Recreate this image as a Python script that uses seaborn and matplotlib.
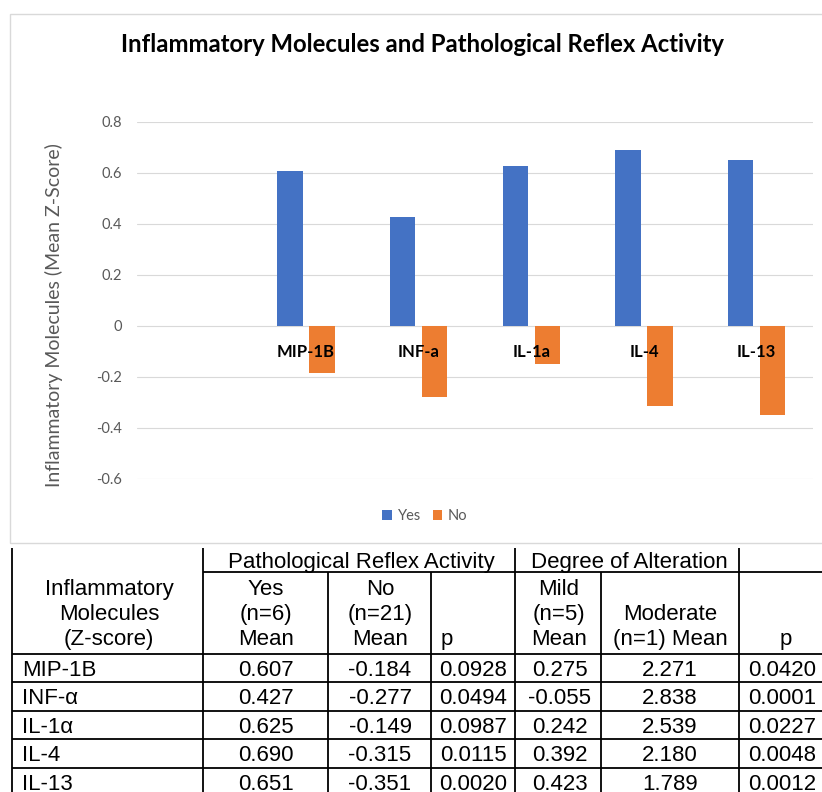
import matplotlib
matplotlib.use("Agg")
import matplotlib.pyplot as plt
import seaborn as sns
import pandas as pd
from matplotlib.patches import Rectangle

# ---------------- data ----------------
molecules = ["MIP-1B", "INF-a", "IL-1a", "IL-4", "IL-13"]
table_molecules = ["MIP-1B", "INF-\u03b1", "IL-1\u03b1", "IL-4", "IL-13"]
groups = ["Yes", "No"]
yes_mean = [0.607, 0.427, 0.625, 0.690, 0.651]
no_mean = [-0.184, -0.277, -0.149, -0.315, -0.351]
p_reflex = ["0.0928", "0.0494", "0.0987", "0.0115", "0.0020"]
mild_mean = ["0.275", "-0.055", "0.242", "0.392", "0.423"]
moderate_mean = ["2.271", "2.838", "2.539", "2.180", "1.789"]
p_alteration = ["0.0420", "0.0001", "0.0227", "0.0048", "0.0012"]
y_ticks = [-0.6, -0.4, -0.2, 0, 0.2, 0.4, 0.6, 0.8]
y_tick_labels = ["-0.6", "-0.4", "-0.2", "0", "0.2", "0.4", "0.6", "0.8"]
chart_title = "Inflammatory Molecules and Pathological Reflex Activity"
y_title = "Inflammatory Molecules (Mean Z-Score)"

df = pd.DataFrame({
    "Molecule": molecules * 2,
    "Group": ["Yes"] * len(molecules) + ["No"] * len(molecules),
    "Value": yes_mean + no_mean,
})

sns.set_theme(style="white")
plt.rcParams["font.family"] = ["Lato", "DejaVu Sans"]

W, H = 822, 792
fig = plt.figure(figsize=(W / 100, H / 100), dpi=100)


def fx(x):
    return x / W


def fy(y):
    return 1 - y / H


# chart frame
frame = Rectangle((fx(10), fy(543)), fx(840) - fx(10), fy(14) - fy(543),
                  transform=fig.transFigure, fill=False, edgecolor="#D9D9D9",
                  lw=1.0, clip_on=False)
fig.patches.append(frame)

ax = fig.add_axes([fx(137), fy(479), fx(813) - fx(137), fy(121.7) - fy(479)])
sns.barplot(data=df, x="Molecule", y="Value", hue="Group", hue_order=groups,
            order=molecules, palette={"Yes": "#4472C4", "No": "#ED7D31"},
            width=0.568, gap=0.213, saturation=1, linewidth=0, ax=ax,
            legend=True)
for s in ax.spines.values():
    s.set_visible(False)
ax.spines["bottom"].set_position(("data", 0))
ax.set_xlim(-1.5, 4.5)
ax.set_ylim(-0.6, 0.8)
ax.set_yticks(y_ticks, y_tick_labels)
ax.set_xticks(range(len(molecules)), molecules)
ax.yaxis.grid(True, color="#D9D9D9", lw=0.8)
ax.xaxis.grid(False)
ax.tick_params(axis="y", length=0, pad=11, labelsize=10.5, labelcolor="#595959")
ax.tick_params(axis="x", length=0, pad=13, labelsize=12, labelcolor="black")
for lbl in ax.get_xticklabels():
    lbl.set_fontweight("bold")
ax.yaxis.set_zorder(0.5)
ax.xaxis.set_zorder(3)
ax.set_xlabel("")
ax.set_ylabel(y_title, fontsize=14, color="#595959")
ax.yaxis.set_label_coords((54 - 137) / 676, (479 - 315) / 357.3)
ax.yaxis.label.set_va("center")

handles, labels = ax.get_legend_handles_labels()
ax.legend(handles, labels, loc="center", bbox_to_anchor=(fx(425), fy(516)),
          bbox_transform=fig.transFigure, ncol=2, frameon=False,
          handlelength=0.65, handleheight=0.65, handletextpad=0.4,
          columnspacing=0.8, fontsize=10.5, labelcolor="#595959")

fig.suptitle(chart_title, x=fx(422), y=fy(44), va="center", ha="center",
             fontsize=17.2, fontweight="bold", color="black")

# ---------------- table ----------------
tax = fig.add_axes([0, 0, 1, 1])
tax.set_xlim(0, W)
tax.set_ylim(H, 0)
tax.axis("off")

LW = 1.3
line_kw = dict(color="black", lw=LW, solid_capstyle="butt")
top, sub, hdr_bot, bot, right = 548, 572, 654, 800, 830
for x in [12, 203, 515, 739]:
    tax.plot([x, x], [top, bot], **line_kw)
for x in [328, 431, 601]:
    tax.plot([x, x], [sub, bot], **line_kw)
tax.plot([203, right], [sub, sub], **line_kw)
row_lines = [hdr_bot, 682.3, 710.7, 739.3, 768, 796.6]
for y in row_lines:
    tax.plot([12, right], [y, y], **line_kw)

tf = dict(family=["Liberation Sans", "DejaVu Sans"], fontsize=16, color="black")
b1, b2, b3 = 595, 620, 645
tax.text(361, 568.4, "Pathological Reflex Activity", ha="center", va="baseline", **tf)
tax.text(629, 568.4, "Degree of Alteration", ha="center", va="baseline", **tf)
for txt, b in zip(["Inflammatory", "Molecules", "(Z-score)"], [b1, b2, b3]):
    tax.text(109, b, txt, ha="center", va="baseline", **tf)
for txt, b in zip(["Yes", "(n=6)", "Mean"], [b1, b2, b3]):
    tax.text(266, b, txt, ha="center", va="baseline", **tf)
for txt, b in zip(["No", "(n=21)", "Mean"], [b1, b2, b3]):
    tax.text(380, b, txt, ha="center", va="baseline", **tf)
tax.text(447, b3, "p", ha="center", va="baseline", **tf)
for txt, b in zip(["Mild", "(n=5)", "Mean"], [b1, b2, b3]):
    tax.text(559, b, txt, ha="center", va="baseline", **tf)
for txt, b in zip(["Moderate", "(n=1) Mean"], [b2, b3]):
    tax.text(670.5, b, txt, ha="center", va="baseline", **tf)
tax.text(786, b3, "p", ha="center", va="baseline", **tf)

col_centers = [266, 380, 473, 559.5, 670, 782]
for i, name in enumerate(table_molecules):
    yc = (row_lines[i] + row_lines[i + 1]) / 2 + 7.8
    tax.text(22, yc, name, ha="left", va="baseline", **tf)
    vals = [f"{yes_mean[i]:.3f}", f"{no_mean[i]:.3f}", p_reflex[i],
            mild_mean[i], moderate_mean[i], p_alteration[i]]
    for cx, v in zip(col_centers, vals):
        tax.text(cx, yc, v, ha="center", va="baseline", **tf)

fig.savefig("out.png", dpi=100)
